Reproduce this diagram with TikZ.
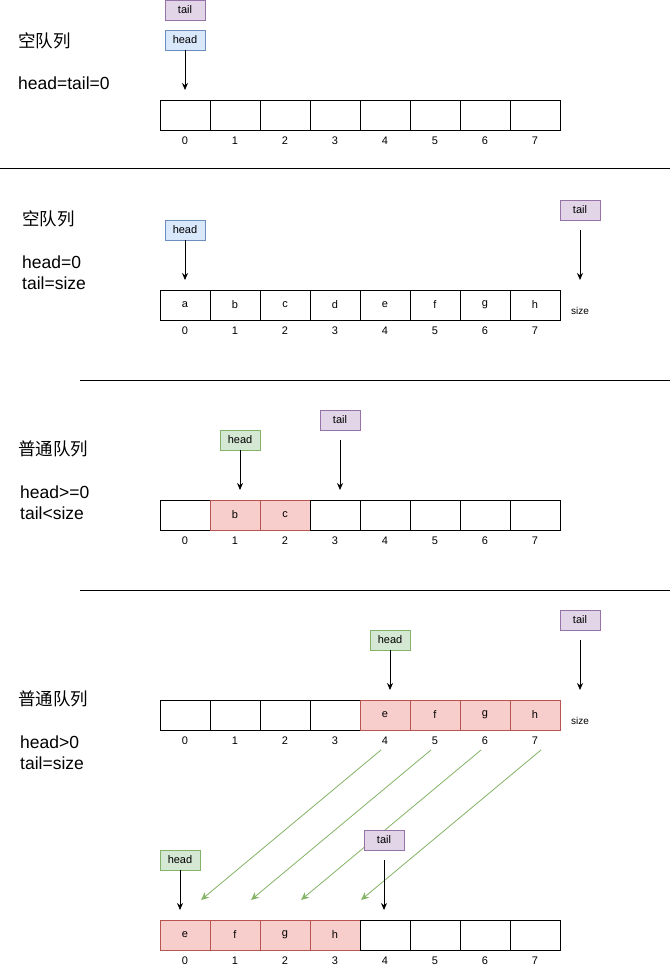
\documentclass[tikz,border=0pt]{standalone}
\usepackage{fontspec}
\setmainfont{Liberation Sans}
\newfontfamily\cjk{Noto Sans CJK SC}
\usetikzlibrary{arrows.meta}
\definecolor{bfill}{HTML}{DAE8FC}\definecolor{bline}{HTML}{6C8EBF}
\definecolor{pfill}{HTML}{E1D5E7}\definecolor{pline}{HTML}{9673A6}
\definecolor{gfill}{HTML}{D5E8D4}\definecolor{gline}{HTML}{82B366}
\definecolor{rfill}{HTML}{F8CECC}\definecolor{rline}{HTML}{B85450}
\tikzset{
 cell/.style={draw=black,line width=0.8pt,minimum width=50pt,minimum height=30pt,inner sep=0pt,outer sep=0pt,font=\fontsize{11}{13}\selectfont,anchor=north west},
 rcell/.style={cell,fill=rfill,draw=rline},
 idx/.style={font=\fontsize{11}{13}\selectfont,inner sep=0pt},
 tag/.style={minimum width=40pt,minimum height=20pt,inner sep=0pt,outer sep=0pt,font=\fontsize{11}{13}\selectfont,anchor=north west,line width=0.8pt},
 btag/.style={tag,draw=bline,fill=bfill},
 ptag/.style={tag,draw=pline,fill=pfill},
 gtag/.style={tag,draw=gline,fill=gfill},
 ptr/.style={-{Stealth[length=7pt,width=6pt]},line width=0.8pt},
 mv/.style={-{Stealth[length=8pt,width=7pt]},draw=gline,line width=0.8pt},
 lbl/.style={font=\fontsize{17.5}{20}\selectfont,anchor=west,inner sep=0pt},
 sep/.style={line width=0.8pt}
}
\begin{document}
\begin{tikzpicture}[x=1pt,y=-1pt]
\useasboundingbox (0,0) rectangle (671,971);
% Row 1
\foreach \i in {0,...,7}{\node[cell] (a\i) at (160+50*\i,100) {}; \node[idx] (ai\i) at (185+50*\i,141) {\i};}
\node[ptag] (at) at (165,0) {tail};
\node[btag] (ah) at (165,30) {head};
\coordinate (ahe) at (185,90);
\draw[ptr] (ah.south) -- (ahe);
\node[lbl] (l1a) at (18,41) {\cjk 空队列};
\node[lbl] (l1b) at (18,83) {head=tail=0};
\coordinate (s1a) at (0,168); \coordinate (s1b) at (670,168);
\draw[sep] (s1a) -- (s1b);
% Row 2
\foreach \c [count=\j from 0] in {a,b,c,d,e,f,g,h}{\node[cell] (b\j) at (160+50*\j,290) {\c}; \node[idx] (bi\j) at (185+50*\j,331) {\j};}
\node[btag] (bh) at (165,220) {head};
\node[ptag] (bt) at (560,200) {tail};
\coordinate (bhe) at (185,280); \coordinate (bts) at (580,230); \coordinate (bte) at (580,280);
\draw[ptr] (bh.south) -- (bhe); \draw[ptr] (bts) -- (bte);
\node[idx] (bsz) at (580,311) {\fontsize{10}{12}\selectfont size};
\node[lbl] (l2a) at (22,219) {\cjk 空队列};
\node[lbl] (l2b) at (22,262) {head=0};
\node[lbl] (l2c) at (22,283) {tail=size};
\coordinate (s2a) at (80,380); \coordinate (s2b) at (670,380);
\draw[sep] (s2a) -- (s2b);
% Row 3
\foreach \i in {0,...,7}{\node[idx] (ci\i) at (185+50*\i,541) {\i};}
\node[cell] (c0) at (160,500) {};
\node[rcell] (c1) at (210,500) {b};
\node[rcell] (c2) at (260,500) {c};
\foreach \i in {3,...,7}{\node[cell] (c\i) at (160+50*\i,500) {};}
\node[gtag] (ch) at (220,430) {head};
\node[ptag] (ct) at (320,410) {tail};
\coordinate (che) at (240,490); \coordinate (cts) at (340,440); \coordinate (cte) at (340,490);
\draw[ptr] (ch.south) -- (che); \draw[ptr] (cts) -- (cte);
\node[lbl] (l3a) at (18,449) {\cjk 普通队列};
\node[lbl] (l3b) at (20,492) {head>=0};
\node[lbl] (l3c) at (20,513) {tail<size};
\coordinate (s3a) at (80,590); \coordinate (s3b) at (670,590);
\draw[sep] (s3a) -- (s3b);
% Row 4
\foreach \i in {0,...,3}{\node[cell] (d\i) at (160+50*\i,700) {};}
\foreach \c [count=\j from 4] in {e,f,g,h}{\node[rcell] (d\j) at (160+50*\j,700) {\c};}
\foreach \i in {0,...,7}{\node[idx] (di\i) at (185+50*\i,741) {\i};}
\node[gtag] (dh) at (370,630) {head};
\node[ptag] (dt) at (560,610) {tail};
\coordinate (dhe) at (390,690); \coordinate (dts) at (580,640); \coordinate (dte) at (580,690);
\draw[ptr] (dh.south) -- (dhe); \draw[ptr] (dts) -- (dte);
\node[idx] (dsz) at (580,721) {\fontsize{10}{12}\selectfont size};
\node[lbl] (l4a) at (18,699) {\cjk 普通队列};
\node[lbl] (l4b) at (20,742) {head>0};
\node[lbl] (l4c) at (20,763) {tail=size};
% Row 5
\foreach \c [count=\j from 0] in {e,f,g,h}{\node[rcell] (e\j) at (160+50*\j,920) {\c};}
\foreach \i in {4,...,7}{\node[cell] (e\i) at (160+50*\i,920) {};}
\foreach \i in {0,...,7}{\node[idx] (ei\i) at (185+50*\i,961) {\i};}
% moves
\coordinate (m0s) at (381,750); \coordinate (m0e) at (201,900);
\coordinate (m1s) at (431,750); \coordinate (m1e) at (251,900);
\coordinate (m2s) at (481,750); \coordinate (m2e) at (301,900);
\coordinate (m3s) at (541,750); \coordinate (m3e) at (361,900);
\foreach \k in {0,...,3}{\draw[mv] (m\k s) -- (m\k e);}
\node[gtag] (eh) at (160,850) {head};
\node[ptag] (et) at (364,830) {tail};
\coordinate (ehe) at (180,910); \coordinate (ets) at (384,860); \coordinate (ete) at (384,910);
\draw[ptr] (eh.south) -- (ehe); \draw[ptr] (ets) -- (ete);
\end{tikzpicture}
\end{document}
